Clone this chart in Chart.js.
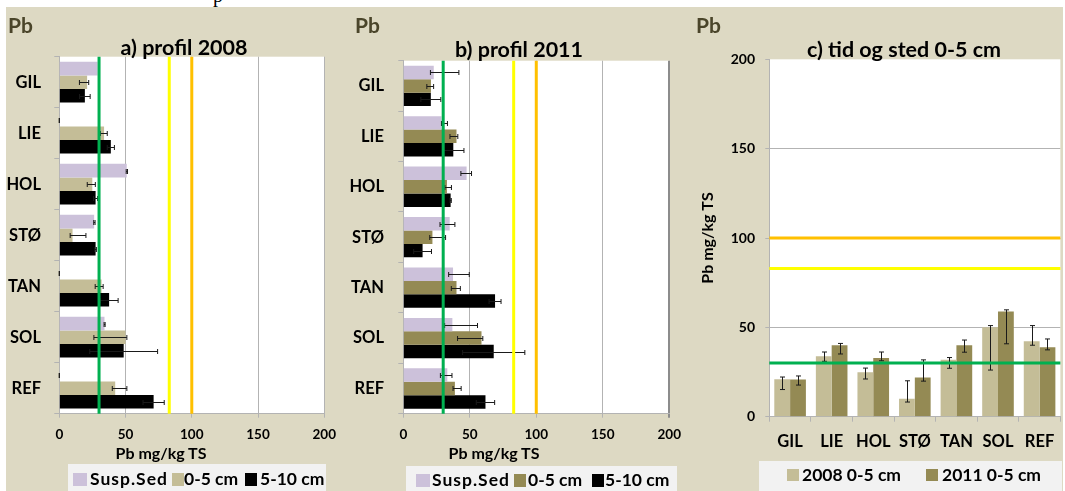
<!DOCTYPE html>
<html>
<head>
<meta charset="utf-8">
<script src="https://cdn.jsdelivr.net/npm/chart.js@4"></script>
<style>
body { margin:0; width:1065px; height:491px; background:#fff; overflow:hidden; position:relative; font-family: Lato, sans-serif; font-weight:bold; color:#000; }
#bg { position:absolute; left:6px; top:7px; width:1057px; height:484px; background:#DDD9C3; }
canvas { position:absolute; top:0; }
.t { position:absolute; white-space:nowrap; line-height:1; transform:translate(-50%,-50%); }
.l { position:absolute; white-space:nowrap; line-height:1; transform:translate(0,-50%); font-size:17.5px; }
.pb { position:absolute; font-size:21px; color:#4A452A; line-height:1; transform:translate(0,-50%); }
.box { position:absolute; background:#F2F2F2; }
.sw { position:absolute; }
</style>
</head>
<body>
<div style="position:absolute;left:213px;top:-15px;font:20px 'Liberation Serif';line-height:20px;">p</div>
<div id="bg"></div>

<canvas id="ca" width="345" height="491" style="left:0"></canvas>
<canvas id="cb" width="345" height="491" style="left:345px"></canvas>
<canvas id="cc" width="375" height="491" style="left:690px"></canvas>

<div class="pb" style="left:8px;top:24px">Pb</div>
<div class="pb" style="left:355px;top:24px">Pb</div>
<div class="pb" style="left:696px;top:24px">Pb</div>

<div class="t" style="left:184px;top:48px;font-size:21.5px">a) profil 2008</div>
<div class="t" style="left:519px;top:50px;font-size:21.5px">b) profil 2011</div>
<div class="t" style="left:904px;top:50px;font-size:21.5px">c) tid og sted 0-5 cm</div>

<div class="t" style="left:161px;top:453px;font-size:16px">Pb mg/kg TS</div>
<div class="t" style="left:494px;top:453px;font-size:16px">Pb mg/kg TS</div>

<div class="box" style="left:68px;top:464px;width:258px;height:27px"></div>
<div class="sw" style="left:73px;top:473px;width:14px;height:13px;background:#CCC1DA"></div>
<div class="l" style="left:90px;top:479px;letter-spacing:1px">Susp.Sed</div>
<div class="sw" style="left:172px;top:473px;width:12px;height:13px;background:#C4BD97"></div>
<div class="l" style="left:184px;top:479px">0-5 cm</div>
<div class="sw" style="left:245px;top:473px;width:12px;height:13px;background:#000"></div>
<div class="l" style="left:260px;top:479px">5-10 cm</div>

<div class="box" style="left:406px;top:466px;width:271px;height:25px"></div>
<div class="sw" style="left:416px;top:474px;width:14px;height:13px;background:#CCC1DA"></div>
<div class="l" style="left:432px;top:480px;letter-spacing:1px">Susp.Sed</div>
<div class="sw" style="left:514px;top:474px;width:12px;height:13px;background:#948A54"></div>
<div class="l" style="left:528px;top:480px">0-5 cm</div>
<div class="sw" style="left:592px;top:474px;width:12px;height:13px;background:#000"></div>
<div class="l" style="left:605px;top:480px">5-10 cm</div>

<div class="box" style="left:759px;top:461px;width:303px;height:30px"></div>
<div class="sw" style="left:787px;top:469px;width:12px;height:12px;background:#C4BD97"></div>
<div class="l" style="left:802px;top:475px">2008 0-5 cm</div>
<div class="sw" style="left:926px;top:469px;width:12px;height:12px;background:#948A54"></div>
<div class="l" style="left:942px;top:475px">2011 0-5 cm</div>

<script>
const sites = ['GIL', 'LIE', 'HOL', 'STØ', 'TAN', 'SOL', 'REF'];
const valueTicks = [0, 50, 100, 150, 200];

// 2008 profile
const susp2008 = [28.9, 0, 50.9, 26.3, 0, 34.1, 0];
const susp2008Lo = [null, 0, 50.5, 26, 0, 33.8, 0];
const susp2008Hi = [null, 0, 51.5, 27, 0, 34.6, 0];
const soil2008 = [21, 33.8, 24.9, 10, 31.9, 50, 42.2];
const soil2008Lo = [15.2, 31, 21.1, 8.2, 27.1, 26.1, 40];
const soil2008Hi = [22.2, 36.2, 27.2, 20.1, 33.1, 51, 51];
const deep2008 = [19.3, 38.9, 27.4, 27.4, 37.6, 48.6, 71.2];
const deep2008Lo = [15.3, 36.2, 25.9, 26.8, 30.8, 23, 63.2];
const deep2008Hi = [23.3, 41.6, 28.9, 28, 44.4, 74.2, 79.2];

// 2011 profile
const susp2011 = [22.9, 28.7, 47.6, 34.9, 37.4, 36.9, 33.1];
const susp2011Lo = [20.4, 28.7, 43.3, 27.6, 34.1, 31.1, 27.9];
const susp2011Hi = [41.8, 33.2, 51.3, 38.8, 49.6, 55.8, 36.6];
const soil2011 = [20.8, 40, 32.8, 21.9, 40, 58.8, 38.8];
const soil2011Lo = [17.7, 35.1, 31.3, 19.9, 36.1, 40.8, 37.4];
const soil2011Hi = [22.8, 41, 36.2, 31.8, 42.9, 59.8, 43.5];
const deep2011 = [20.7, 37.6, 35.6, 14.5, 69, 68, 61.8];
const deep2011Lo = [13.2, 29.6, 35.1, 7.8, 64.5, 44.6, 54.9];
const deep2011Hi = [28.2, 45.6, 36.1, 21.2, 73.5, 91.4, 68.7];

// limit values (green, yellow, orange)
const limits = [30, 83, 100];
const limitColors = ['#00B050', '#FFFF00', '#FFC000'];

const LAV = '#CCC1DA', TAN = '#C4BD97', OLIVE = '#948A54';
const GRID = '#B3B3B3';

Chart.defaults.font.family = 'Lato';
Chart.defaults.font.weight = 'bold';
Chart.defaults.color = '#000';

const extras = {
  id: 'extras',
  beforeDraw(chart) {
    const a = chart.chartArea, ctx = chart.ctx;
    ctx.save();
    ctx.fillStyle = '#fff';
    ctx.fillRect(a.left, a.top, a.right - a.left, a.bottom - a.top);
    ctx.restore();
  },
  afterDatasetsDraw(chart) {
    const ctx = chart.ctx, a = chart.chartArea;
    const horiz = chart.options.indexAxis === 'y';
    const vs = horiz ? chart.scales.x : chart.scales.y;
    ctx.save();
    ctx.strokeStyle = '#1a1a1a';
    ctx.lineWidth = 1;
    chart.data.datasets.forEach((ds, i) => {
      if (!ds.errLo) return;
      chart.getDatasetMeta(i).data.forEach((bar, j) => {
        const lo = ds.errLo[j], hi = ds.errHi[j];
        if (lo == null) return;
        const p1 = vs.getPixelForValue(lo), p2 = vs.getPixelForValue(hi);
        ctx.beginPath();
        if (horiz) {
          const c = Math.round(bar.y) + 0.5;
          ctx.moveTo(p1, c); ctx.lineTo(p2, c);
          ctx.moveTo(p1, c - 2.5); ctx.lineTo(p1, c + 2.5);
          ctx.moveTo(p2, c - 2.5); ctx.lineTo(p2, c + 2.5);
        } else {
          const c = Math.round(bar.x) + 0.5;
          ctx.moveTo(c, p1); ctx.lineTo(c, p2);
          ctx.moveTo(c - 2.5, p1); ctx.lineTo(c + 2.5, p1);
          ctx.moveTo(c - 2.5, p2); ctx.lineTo(c + 2.5, p2);
        }
        ctx.stroke();
      });
    });
    ctx.lineWidth = 3;
    limits.forEach((v, k) => {
      const p = vs.getPixelForValue(v);
      ctx.strokeStyle = limitColors[k];
      ctx.beginPath();
      if (horiz) { ctx.moveTo(p, a.top); ctx.lineTo(p, a.bottom); }
      else { ctx.moveTo(a.left, p); ctx.lineTo(a.right, p); }
      ctx.stroke();
    });
    ctx.restore();
  }
};

function ds(label, data, color, lo, hi, catPct) {
  return { label: label, data: data, backgroundColor: color, errLo: lo, errHi: hi,
           categoryPercentage: catPct, barPercentage: 1 };
}

function profileChart(id, datasets, pad, yWidth, yPad, edgeDark) {
  return new Chart(document.getElementById(id), {
    type: 'bar',
    data: { labels: sites, datasets: datasets },
    plugins: [extras],
    options: {
      indexAxis: 'y', responsive: false, animation: false,
      layout: { padding: pad },
      plugins: { legend: { display: false }, tooltip: { enabled: false } },
      scales: {
        x: {
          min: 0, max: 200,
          afterBuildTicks: s => { s.ticks = valueTicks.map(v => ({ value: v })); },
          afterFit: s => { s.height = 30; },
          ticks: { padding: 9, font: { size: 13.5 } },
          grid: {
            color: c => (edgeDark && c.tick && c.tick.value === 200) ? '#8C8C8C' : GRID,
            lineWidth: c => (edgeDark && c.tick && c.tick.value === 200) ? 2 : 1,
            tickLength: 4
          },
          border: { color: GRID }
        },
        y: {
          afterFit: s => { s.width = yWidth; },
          ticks: { padding: yPad, font: { size: 16.5 } },
          grid: { offset: true, drawOnChartArea: false, tickLength: 5, color: GRID },
          border: { color: GRID }
        }
      }
    }
  });
}

profileChart('ca', [
  ds('Susp.Sed', susp2008, LAV, susp2008Lo, susp2008Hi, 0.8),
  ds('0-5 cm', soil2008, TAN, soil2008Lo, soil2008Hi, 0.8),
  ds('5-10 cm', deep2008, '#000', deep2008Lo, deep2008Hi, 0.8)
], { left: 0, right: 20, top: 56.7, bottom: 47.3 }, 59.3, 13.3, false);

profileChart('cb', [
  ds('Susp.Sed', susp2011, LAV, susp2011Lo, susp2011Hi, 0.8),
  ds('0-5 cm', soil2011, OLIVE, soil2011Lo, soil2011Hi, 0.8),
  ds('5-10 cm', deep2011, '#000', deep2011Lo, deep2011Hi, 0.8)
], { left: 0, right: 19, top: 60.7, bottom: 47.3 }, 58.3, 14.3, true);

new Chart(document.getElementById('cc'), {
  type: 'bar',
  data: {
    labels: sites,
    datasets: [
      ds('2008 0-5 cm', soil2008, TAN, soil2008Lo, soil2008Hi, 0.76),
      ds('2011 0-5 cm', soil2011, OLIVE, soil2011Lo, soil2011Hi, 0.76)
    ]
  },
  plugins: [extras],
  options: {
    responsive: false, animation: false,
    layout: { padding: { left: 0, right: 4.3, top: 59.3, bottom: 34.3 } },
    plugins: { legend: { display: false }, tooltip: { enabled: false } },
    scales: {
      x: {
        afterFit: s => { s.height = 40; },
        ticks: { padding: 10.4, font: { size: 16.5 } },
        grid: { offset: true, drawOnChartArea: false, tickLength: 5, color: GRID },
        border: { color: GRID }
      },
      y: {
        min: 0, max: 200,
        afterBuildTicks: s => { s.ticks = valueTicks.map(v => ({ value: v })); },
        afterFit: s => { s.width = 79.3; },
        ticks: { padding: 10.3, font: { size: 14 } },
        title: { display: true, text: 'Pb mg/kg TS', font: { size: 16 }, padding: { top: 8.5, bottom: 0 } },
        grid: {
          color: c => (c.tick && c.tick.value === 200) ? 'rgba(0,0,0,0)' : GRID,
          tickColor: GRID, tickLength: 4
        },
        border: { color: GRID }
      }
    }
  }
});
</script>
</body>
</html>
